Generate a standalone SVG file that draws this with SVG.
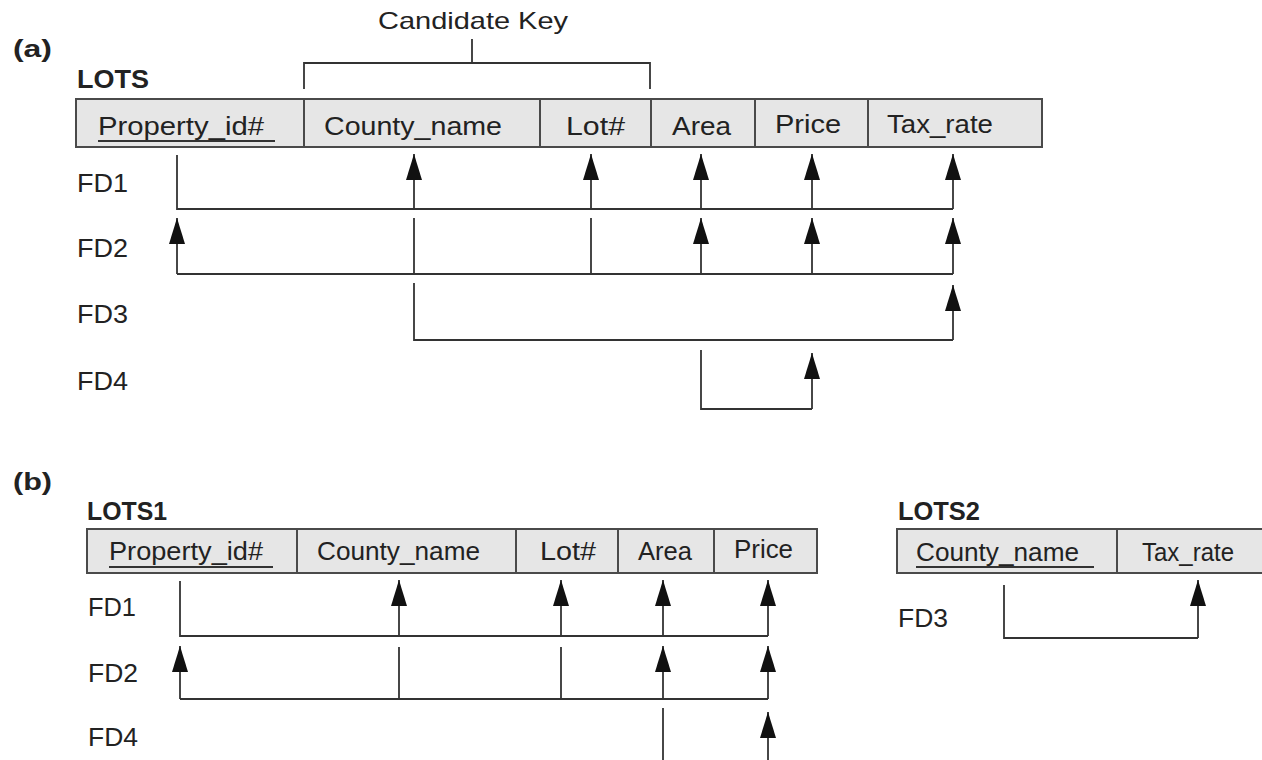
<svg xmlns="http://www.w3.org/2000/svg" width="1262" height="760" viewBox="0 0 1262 760">
<style>
text{font-family:"Liberation Sans",Arial,Helvetica,sans-serif;fill:#222;lengthAdjust:spacingAndGlyphs}
.t{font-size:26px}
.tb{font-size:25px}
.h{font-weight:bold}
.cell{fill:#e6e6e6;stroke:#4a4a4a;stroke-width:2}
.div{stroke:#4a4a4a;stroke-width:2}
.ln{stroke:#333;stroke-width:1.8;fill:none}
.ar{stroke:#333;stroke-width:1.8;fill:none;marker-end:url(#ah)}
.ul{stroke:#333;stroke-width:1.8}
</style>
<defs>
<marker id="ah" viewBox="0 0 26 16" refX="26" refY="8" markerWidth="26" markerHeight="16" markerUnits="userSpaceOnUse" orient="auto">
<path d="M0,0 L26,8 L0,16 z" fill="#111"/>
</marker>
</defs>
<rect width="1262" height="760" fill="#fff"/>

<g id="part-a">
<text class="h" x="13" y="57" font-size="23" textLength="39" lengthAdjust="spacingAndGlyphs">(a)</text>
<g id="candidate-key">
<text x="378" y="29" font-size="24" textLength="190" lengthAdjust="spacingAndGlyphs">Candidate Key</text>
<path class="ln" d="M472,39 V63 M304,89 V63 H650 V89"/>
</g>
<g id="LOTS">
<text class="t h" x="77" y="88" textLength="72" lengthAdjust="spacingAndGlyphs">LOTS</text>
<rect class="cell" x="76" y="99" width="966" height="48"/>
<path class="div" d="M304,99 V147 M540,99 V147 M651,99 V147 M755,99 V147 M868,99 V147"/>
<text class="t" x="98" y="135" textLength="166" lengthAdjust="spacingAndGlyphs">Property_id#</text>
<line class="ul" x1="98" y1="141" x2="275" y2="141"/>
<text class="t" x="324" y="135" textLength="178" lengthAdjust="spacingAndGlyphs">County_name</text>
<text class="t" x="566" y="135" textLength="59" lengthAdjust="spacingAndGlyphs">Lot#</text>
<text class="t" x="672" y="135" textLength="59" lengthAdjust="spacingAndGlyphs">Area</text>
<text class="t" x="775" y="133" textLength="66" lengthAdjust="spacingAndGlyphs">Price</text>
<text class="t" x="887" y="133" textLength="106" lengthAdjust="spacingAndGlyphs">Tax_rate</text>
</g>
<g id="a-labels">
<text class="t" x="77" y="192" textLength="51" lengthAdjust="spacingAndGlyphs">FD1</text>
<text class="t" x="77" y="257" textLength="51" lengthAdjust="spacingAndGlyphs">FD2</text>
<text class="t" x="77" y="323" textLength="51" lengthAdjust="spacingAndGlyphs">FD3</text>
<text class="t" x="77" y="390" textLength="51" lengthAdjust="spacingAndGlyphs">FD4</text>
</g>
</g>

<g id="part-b">
<text class="h" x="13" y="490" font-size="23" textLength="39" lengthAdjust="spacingAndGlyphs">(b)</text>
<g id="LOTS1">
<text class="tb h" x="87" y="520" textLength="80" lengthAdjust="spacingAndGlyphs">LOTS1</text>
<rect class="cell" x="87" y="529" width="730" height="44"/>
<path class="div" d="M297,529 V573 M516,529 V573 M618,529 V573 M714,529 V573"/>
<text class="tb" x="109" y="560" textLength="154" lengthAdjust="spacingAndGlyphs">Property_id#</text>
<line class="ul" x1="109" y1="567" x2="273" y2="567"/>
<text class="tb" x="317" y="560" textLength="163" lengthAdjust="spacingAndGlyphs">County_name</text>
<text class="tb" x="540" y="560" textLength="56" lengthAdjust="spacingAndGlyphs">Lot#</text>
<text class="tb" x="638" y="560" textLength="54" lengthAdjust="spacingAndGlyphs">Area</text>
<text class="tb" x="734" y="558" textLength="59" lengthAdjust="spacingAndGlyphs">Price</text>
</g>
<g id="LOTS2">
<text class="tb h" x="898" y="520" textLength="82" lengthAdjust="spacingAndGlyphs">LOTS2</text>
<rect class="cell" x="897" y="529" width="380" height="44"/>
<path class="div" d="M1117,529 V573"/>
<text class="tb" x="916" y="561" textLength="163" lengthAdjust="spacingAndGlyphs">County_name</text>
<line class="ul" x1="916" y1="567" x2="1094" y2="567"/>
<text class="tb" x="1142" y="561" textLength="92" lengthAdjust="spacingAndGlyphs">Tax_rate</text>
</g>
<g id="b-labels">
<text class="tb" x="88" y="616" textLength="48" lengthAdjust="spacingAndGlyphs">FD1</text>
<text class="tb" x="88" y="682" textLength="50" lengthAdjust="spacingAndGlyphs">FD2</text>
<text class="tb" x="88" y="746" textLength="50" lengthAdjust="spacingAndGlyphs">FD4</text>
<text class="tb" x="898" y="627" textLength="50" lengthAdjust="spacingAndGlyphs">FD3</text>
</g>
</g>

<g id="connectors">
<!-- (a) FD1 -->
<path class="ln" d="M177,155 V209 H953"/>
<line class="ar" x1="414" y1="209" x2="414" y2="154"/>
<line class="ar" x1="591" y1="209" x2="591" y2="154"/>
<line class="ar" x1="701" y1="209" x2="701" y2="154"/>
<line class="ar" x1="812" y1="209" x2="812" y2="154"/>
<line class="ar" x1="953" y1="209" x2="953" y2="154"/>
<!-- (a) FD2 -->
<path class="ln" d="M177,274 H953 M414,218 V274 M591,218 V274"/>
<line class="ar" x1="177" y1="274" x2="177" y2="218"/>
<line class="ar" x1="701" y1="274" x2="701" y2="218"/>
<line class="ar" x1="812" y1="274" x2="812" y2="218"/>
<line class="ar" x1="953" y1="274" x2="953" y2="218"/>
<!-- (a) FD3 -->
<path class="ln" d="M414,283 V340 H953"/>
<line class="ar" x1="953" y1="340" x2="953" y2="285"/>
<!-- (a) FD4 -->
<path class="ln" d="M701,350 V409 H812"/>
<line class="ar" x1="812" y1="409" x2="812" y2="353"/>
<!-- (b) FD1 -->
<path class="ln" d="M180,581 V636 H768"/>
<line class="ar" x1="399" y1="636" x2="399" y2="580"/>
<line class="ar" x1="561" y1="636" x2="561" y2="580"/>
<line class="ar" x1="663" y1="636" x2="663" y2="580"/>
<line class="ar" x1="768" y1="636" x2="768" y2="580"/>
<!-- (b) FD2 -->
<path class="ln" d="M180,699 H768 M399,647 V699 M561,647 V699"/>
<line class="ar" x1="180" y1="699" x2="180" y2="646"/>
<line class="ar" x1="663" y1="699" x2="663" y2="646"/>
<line class="ar" x1="768" y1="699" x2="768" y2="646"/>
<!-- (b) FD4 -->
<path class="ln" d="M663,708 V765"/>
<line class="ar" x1="768" y1="765" x2="768" y2="712"/>
<!-- (b) LOTS2 FD3 -->
<path class="ln" d="M1004,585 V638 H1198"/>
<line class="ar" x1="1198" y1="638" x2="1198" y2="580"/>
</g>
</svg>
